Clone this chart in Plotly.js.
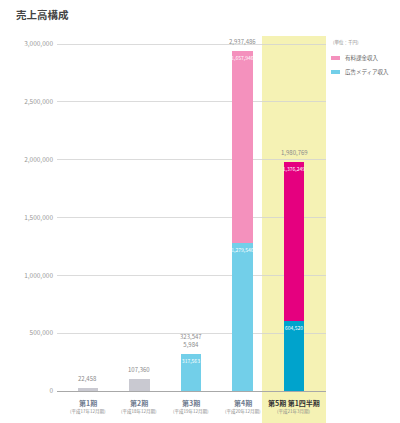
<!DOCTYPE html>
<html>
<head>
<meta charset="utf-8">
<script src="https://cdn.plot.ly/plotly-3.0.1.min.js"></script>
<style>html,body{margin:0;padding:0;background:#fff;}#chart{width:400px;height:423px;}</style>
</head>
<body>
<div id="chart"></div>
<script>
// ---- data (千円) ----
var categories = ['第1期', '第2期', '第3期', '第4期', '第5期 第1四半期'];
var periodNotes = ['(平成17年12月期)', '(平成18年12月期)', '(平成19年12月期)', '(平成20年12月期)', '(平成21年3月期)'];
var earlyRevenue = [22458, 107360, null, null, null];        // gray bars (no breakdown)
var adRevenue = [null, null, 317563, 1279540, 604520];      // 広告メディア収入
var paidRevenue = [null, null, 5984, 1657946, 1376249];     // 有料課金収入
var totals = [22458, 107360, 323547, 2937486, 1980769];
var yTicks = [0, 500000, 1000000, 1500000, 2000000, 2500000, 3000000];

function fmt(v) { return v == null ? '' : v.toLocaleString('en-US'); }

var FONT = '"Noto Sans CJK JP", "Noto Sans", sans-serif';
var adColors = ['#72cfe9', '#72cfe9', '#72cfe9', '#72cfe9', '#00a3cc'];
var paidColors = ['#f491bd', '#f491bd', '#f491bd', '#f491bd', '#e5007f'];

var traces = [
  {
    type: 'bar', x: categories, y: earlyRevenue, width: 0.4,
    marker: { color: '#c9c9d1' }, showlegend: false, hoverinfo: 'skip'
  },
  {
    type: 'bar', name: '広告メディア収入', x: categories, y: adRevenue, width: 0.4,
    marker: { color: adColors }, showlegend: false,
    text: adRevenue.map(fmt), textposition: 'inside', insidetextanchor: 'end',
    constraintext: 'none', textangle: 0,
    insidetextfont: { family: FONT, size: 5, color: '#ffffff' }
  },
  {
    type: 'bar', name: '有料課金収入', x: categories, y: paidRevenue, width: 0.4,
    marker: { color: paidColors }, showlegend: false,
    text: paidRevenue.map(function (v, i) { return i === 2 ? '' : fmt(v); }),
    textposition: 'inside', insidetextanchor: 'end', constraintext: 'none', textangle: 0,
    insidetextfont: { family: FONT, size: 5, color: '#ffffff' }
  }
];

var annotations = [];
// total labels above bars
totals.forEach(function (t, i) {
  var txt = fmt(t);
  if (i === 2) txt = fmt(t) + '<br>' + fmt(paidRevenue[i]);
  annotations.push({
    x: categories[i], y: t, xref: 'x', yref: 'y', text: txt, showarrow: false,
    yanchor: 'bottom', yshift: 3,
    font: { family: FONT, size: 6, color: '#8a8a8a' }
  });
});
// category labels
categories.forEach(function (c, i) {
  var last = i === categories.length - 1;
  annotations.push({
    x: c, y: 0, xref: 'x', yref: 'paper', text: last ? '<b>' + c + '</b>' : '<b>' + c + '</b>',
    showarrow: false, yanchor: 'middle', yshift: -12,
    font: { family: FONT, size: 7, color: last ? '#333333' : '#6f7c90' }
  });
  annotations.push({
    x: c, y: 0, xref: 'x', yref: 'paper', text: periodNotes[i],
    showarrow: false, yanchor: 'middle', yshift: -20,
    font: { family: FONT, size: 4.5, color: '#8a8a8a' }
  });
});
// unit + legend
annotations.push({ x: 1.0186, y: 0.983, xref: 'paper', yref: 'paper', xanchor: 'left', yanchor: 'middle',
  text: '(単位：千円)', showarrow: false, font: { family: FONT, size: 4.5, color: '#8a8a8a' } });
annotations.push({ x: 1.063, y: 0.938, xref: 'paper', yref: 'paper', xanchor: 'left', yanchor: 'middle',
  text: traces[2].name, showarrow: false, font: { family: FONT, size: 5.5, color: '#666666' } });
annotations.push({ x: 1.063, y: 0.899, xref: 'paper', yref: 'paper', xanchor: 'left', yanchor: 'middle',
  text: traces[1].name, showarrow: false, font: { family: FONT, size: 5.5, color: '#666666' } });

var shapes = [
  { type: 'rect', xref: 'paper', yref: 'paper', x0: 0.762, x1: 1.0, y0: -0.095, y1: 1.0,
    fillcolor: '#f5f2b4', line: { width: 0 }, layer: 'below' },
  { type: 'rect', xref: 'paper', yref: 'paper', x0: 1.0186, x1: 1.052, y0: 0.9324, y1: 0.9437,
    fillcolor: paidColors[0], line: { width: 0 } },
  { type: 'rect', xref: 'paper', yref: 'paper', x0: 1.0186, x1: 1.052, y0: 0.893, y1: 0.9042,
    fillcolor: adColors[0], line: { width: 0 } }
];

var layout = {
  width: 400, height: 423,
  margin: { l: 57, r: 74, t: 36, b: 32, pad: 0 },
  paper_bgcolor: '#ffffff', plot_bgcolor: 'rgba(0,0,0,0)',
  barmode: 'stack', bargap: 0.6,
  title: { text: '<b>売上高構成</b>', x: 0.04, xanchor: 'left', xref: 'container',
    y: 0.9645, yanchor: 'middle', yref: 'container',
    font: { family: FONT, size: 10.5, color: '#444444' } },
  xaxis: { type: 'category', range: [-0.6, 4.62], showticklabels: false, showgrid: false,
    zeroline: false, showline: false, ticks: '', fixedrange: true },
  yaxis: { range: [0, 3070000], tickvals: yTicks, ticktext: yTicks.map(fmt),
    showgrid: true, gridcolor: '#d2d2d2', gridwidth: 0.8, zeroline: true, zerolinecolor: '#a8a8a8',
    zerolinewidth: 1, showline: false, ticks: '', ticklabelstandoff: 3,
    tickfont: { family: FONT, size: 6.5, color: '#999999' }, fixedrange: true },
  showlegend: false,
  annotations: annotations,
  shapes: shapes
};

Plotly.newPlot('chart', traces, layout, { displayModeBar: false, staticPlot: true });
</script>
</body>
</html>
